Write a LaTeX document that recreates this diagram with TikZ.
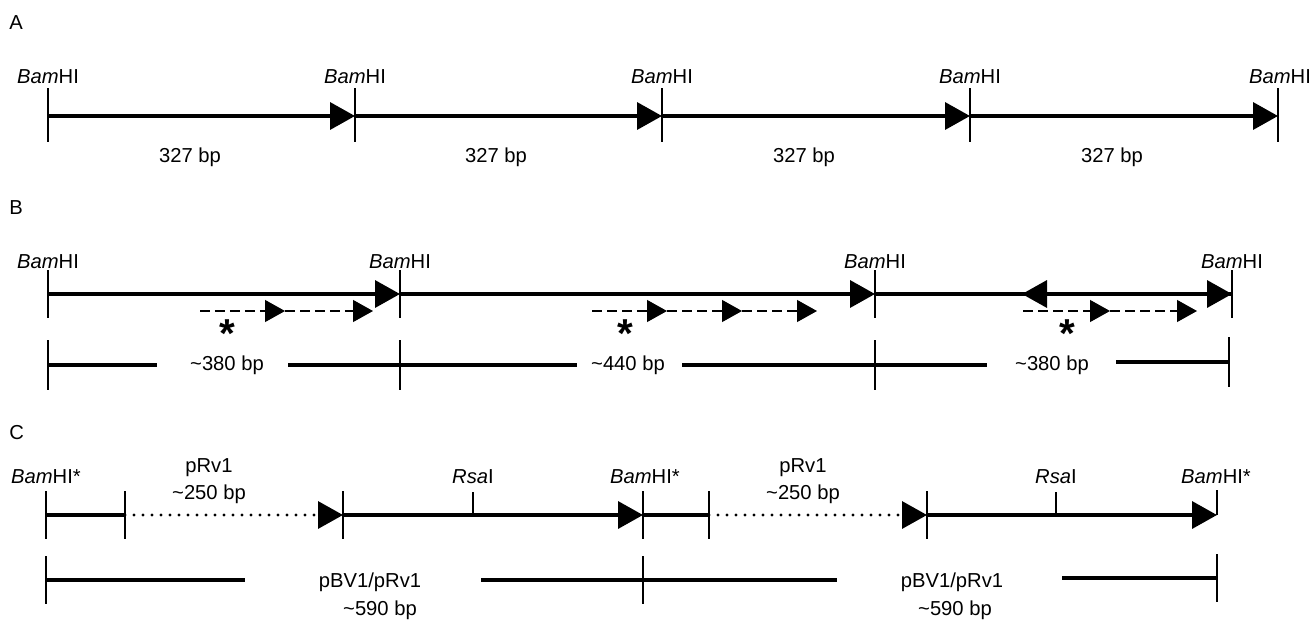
\documentclass[tikz,border=0pt]{standalone}
\usepackage{fontspec}
\setmainfont{Liberation Sans}
\usetikzlibrary{arrows.meta}

\begin{document}
\begin{tikzpicture}[
    x=0.02cm, y=-0.02cm,
    every node/.style={font=\fontsize{11.5}{13}\selectfont, inner sep=0pt},
    lbl/.style={anchor=base},
    dna/.style={line width=2pt},
    arrow/.style={dna, -{Triangle[length=5mm, width=5.4mm]}},
    probe/.style={line width=0.7pt, dash pattern=on 0.2cm off 0.1cm, -{Triangle[length=4mm, width=4.4mm]}},
    pcr/.style={line width=1.9pt, line cap=round, dash pattern=on 0pt off 0.18cm, -{Triangle[length=5mm, width=5.4mm]}},
    site/.style={line width=0.8pt},
    frag/.style={line width=1.8pt},
    star/.style={anchor=base, font=\fontsize{23}{23}\bfseries\selectfont},
  ]
    \useasboundingbox (0,0) rectangle (1315,622);

    % A: tandem repeat
    \node[anchor=west] (panA) at (9,23) {A};
    \coordinate (a0) at (48,116);
    \coordinate (a1) at (355,116);
    \coordinate (a2) at (662,116);
    \coordinate (a3) at (970,116);
    \coordinate (a4) at (1278,116);
    \draw[arrow] (a0) -- (a1);
    \draw[arrow] (a1) -- (a2);
    \draw[arrow] (a2) -- (a3);
    \draw[arrow] (a3) -- (a4);
    \draw[site] (a0) ++(0,-28) -- ++(0,54);
    \draw[site] (a1) ++(0,-28) -- ++(0,54);
    \draw[site] (a2) ++(0,-28) -- ++(0,54);
    \draw[site] (a3) ++(0,-28) -- ++(0,54);
    \draw[site] (a4) ++(0,-28) -- ++(0,54);
    \node[lbl] (bamA0) at (48,83) {\textit{Bam}HI};
    \node[lbl] (bamA1) at (355,83) {\textit{Bam}HI};
    \node[lbl] (bamA2) at (662,83) {\textit{Bam}HI};
    \node[lbl] (bamA3) at (970,83) {\textit{Bam}HI};
    \node[lbl] (bamA4) at (1280,83) {\textit{Bam}HI};
    \node (sizeA1) at (190,157) {327 bp};
    \node (sizeA2) at (496,157) {327 bp};
    \node (sizeA3) at (804,157) {327 bp};
    \node (sizeA4) at (1112,157) {327 bp};

    % B: inverted repeats with probes
    \node[anchor=west] (panB) at (9,208) {B};
    \coordinate (b0) at (48,294);
    \coordinate (b1) at (400,294);
    \coordinate (b2) at (875,294);
    \coordinate (b3) at (1232,294);
    \coordinate (b3l) at (1022,294);
    \draw[arrow] (b0) -- (b1);
    \draw[arrow] (b1) -- (b2);
    \draw[arrow] (b2) -- (b3);
    \draw[arrow] (b3) -- (b3l);
    \draw[site] (b0) ++(0,-24) -- ++(0,48);
    \draw[site] (b1) ++(0,-24) -- ++(0,48);
    \draw[site] (b2) ++(0,-24) -- ++(0,48);
    \draw[site] (b3) ++(0,-24) -- ++(0,48);
    \node[lbl] (bamB0) at (48,268) {\textit{Bam}HI};
    \node[lbl] (bamB1) at (400,268) {\textit{Bam}HI};
    \node[lbl] (bamB2) at (875,268) {\textit{Bam}HI};
    \node[lbl] (bamB3) at (1232,268) {\textit{Bam}HI};

    \coordinate (p1s) at (200,311);
    \coordinate (p1a) at (285,311);
    \coordinate (p1b) at (373,311);
    \draw[probe] (p1s) -- (p1a);
    \draw[probe] (p1a) -- (p1b);
    \coordinate (p2s) at (592,311);
    \coordinate (p2a) at (667,311);
    \coordinate (p2b) at (742,311);
    \coordinate (p2c) at (817,311);
    \draw[probe] (p2s) -- (p2a);
    \draw[probe] (p2a) -- (p2b);
    \draw[probe] (p2b) -- (p2c);
    \coordinate (p3s) at (1023,311);
    \coordinate (p3a) at (1110,311);
    \coordinate (p3b) at (1197,311);
    \draw[probe] (p3s) -- (p3a);
    \draw[probe] (p3a) -- (p3b);
    \node[star] (st1) at (227,347) {*};
    \node[star] (st2) at (625,347) {*};
    \node[star] (st3) at (1067,347) {*};

    \coordinate (f0) at (48,365);
    \coordinate (f1) at (400,365);
    \coordinate (f2) at (875,365);
    \coordinate (f3) at (1229,362);
    \draw[site] (f0) ++(0,-25) -- ++(0,50);
    \draw[site] (f1) ++(0,-25) -- ++(0,50);
    \draw[site] (f2) ++(0,-25) -- ++(0,50);
    \draw[site] (f3) ++(0,-25) -- ++(0,50);
    \node (sizeB1) at (227,365) {\textasciitilde 380 bp};
    \node (sizeB2) at (628,365) {\textasciitilde 440 bp};
    \node (sizeB3) at (1052,365) {\textasciitilde 380 bp};
    \coordinate (g1) at (157,365);
    \coordinate (g2) at (288,365);
    \coordinate (g3) at (577,365);
    \coordinate (g4) at (682,365);
    \coordinate (g5) at (987,365);
    \coordinate (g6) at (1116,362);
    \draw[frag] (f0) -- (g1);
    \draw[frag] (g2) -- (g3);
    \draw[frag] (g4) -- (g5);
    \draw[frag] (g6) -- (f3);

    % C: PCR products
    \node[anchor=west] (panC) at (9,433) {C};
    \coordinate (c0) at (46,515);
    \coordinate (c1) at (125,515);
    \coordinate (c2) at (343,515);
    \coordinate (c3) at (643,515);
    \coordinate (c4) at (709,515);
    \coordinate (c5) at (927,515);
    \coordinate (c6) at (1217,515);
    \coordinate (r1) at (473,515);
    \coordinate (r2) at (1056,515);
    \draw[dna] (c0) -- (c1);
    \draw[pcr] (c1) -- (c2);
    \draw[arrow] (c2) -- (c3);
    \draw[dna] (c3) -- (c4);
    \draw[pcr] (c4) -- (c5);
    \draw[arrow] (c5) -- (c6);
    \draw[site] (c0) ++(0,-24) -- ++(0,48);
    \draw[site] (c1) ++(0,-24) -- ++(0,48);
    \draw[site] (c2) ++(0,-24) -- ++(0,48);
    \draw[site] (c3) ++(0,-24) -- ++(0,48);
    \draw[site] (c4) ++(0,-24) -- ++(0,48);
    \draw[site] (c5) ++(0,-24) -- ++(0,48);
    \draw[site] (c6) ++(0,-25) -- ++(0,25);
    \draw[site] (r1) ++(0,-23) -- ++(0,23);
    \draw[site] (r2) ++(0,-23) -- ++(0,23);
    \node[lbl] (bamC0) at (46,483) {\textit{Bam}HI*};
    \node[lbl] (bamC1) at (645,483) {\textit{Bam}HI*};
    \node[lbl] (bamC2) at (1216,483) {\textit{Bam}HI*};
    \node[lbl] (rsa1) at (473,483) {\textit{Rsa}I};
    \node[lbl] (rsa2) at (1056,483) {\textit{Rsa}I};
    \node[lbl] (prv1) at (209,472) {pRv1};
    \node[lbl] (prv1s) at (209,499) {\textasciitilde 250 bp};
    \node[lbl] (prv2) at (803,472) {pRv1};
    \node[lbl] (prv2s) at (803,499) {\textasciitilde 250 bp};

    \coordinate (h0) at (46,580);
    \coordinate (h1) at (643,580);
    \coordinate (h2) at (1217,578);
    \draw[site] (h0) ++(0,-24) -- ++(0,48);
    \draw[site] (h1) ++(0,-24) -- ++(0,48);
    \draw[site] (h2) ++(0,-24) -- ++(0,48);
    \node (pbv1) at (370,582) {pBV1/pRv1};
    \node (pbv1s) at (380,610) {\textasciitilde 590 bp};
    \node (pbv2) at (952,582) {pBV1/pRv1};
    \node (pbv2s) at (955,610) {\textasciitilde 590 bp};
    \coordinate (k1) at (245,580);
    \coordinate (k2) at (481,580);
    \coordinate (k3) at (837,580);
    \coordinate (k4) at (1062,578);
    \draw[frag] (h0) -- (k1);
    \draw[frag] (k2) -- (k3);
    \draw[frag] (k4) -- (h2);
\end{tikzpicture}
\end{document}
